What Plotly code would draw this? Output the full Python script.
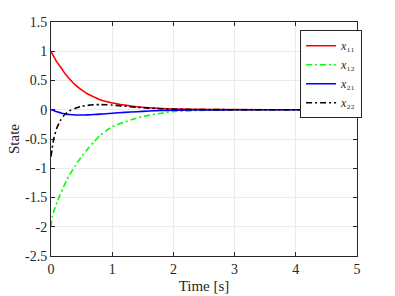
import plotly.graph_objects as go

# ---- data ----
time = [0, 0.02, 0.05, 0.1, 0.15, 0.2, 0.25, 0.3, 0.4, 0.5, 0.6, 0.7, 0.8, 0.9,
        1.0, 1.2, 1.4, 1.6, 1.8, 2.0, 2.3, 2.6, 3.0, 4.0, 5.0]
x11 = [1.0, 0.96, 0.90, 0.81, 0.74, 0.66, 0.59, 0.53, 0.42, 0.34, 0.27, 0.22,
       0.17, 0.14, 0.115, 0.08, 0.05, 0.033, 0.022, 0.014, 0.008, 0.004, 0.002,
       0.0005, 0.0]
x12 = [-2.0, -1.82, -1.72, -1.58, -1.45, -1.33, -1.22, -1.12, -0.95, -0.80,
       -0.67, -0.55, -0.44, -0.36, -0.29, -0.21, -0.145, -0.095, -0.06, -0.03,
       -0.015, -0.007, -0.003, -0.0005, 0.0]
x21 = [0.0, -0.005, -0.015, -0.035, -0.05, -0.065, -0.075, -0.082, -0.09, -0.09,
       -0.087, -0.082, -0.075, -0.068, -0.06, -0.045, -0.033, -0.022, -0.014,
       -0.009, -0.005, -0.003, -0.001, 0.0, 0.0]
x22 = [-0.8, -0.65, -0.47, -0.3, -0.19, -0.11, -0.06, -0.02, 0.025, 0.058, 0.075,
       0.085, 0.088, 0.086, 0.08, 0.062, 0.042, 0.028, 0.018, 0.01, 0.005, 0.002,
       0.001, 0.0, 0.0]

series_names = ["<i>x</i>₁₁", "<i>x</i>₁₂", "<i>x</i>₂₁", "<i>x</i>₂₂"]
series_values = [x11, x12, x21, x22]

x_ticks = [0, 1, 2, 3, 4, 5]
x_tick_labels = ["0", "1", "2", "3", "4", "5"]
y_ticks = [-2.5, -2, -1.5, -1, -0.5, 0, 0.5, 1, 1.5]
y_tick_labels = ["-2.5", "-2", "-1.5", "-1", "-0.5", "0", "0.5", "1", "1.5"]

colors = ["#ff0000", "#00ff00", "#0000ff", "#000000"]
dashes = ["solid", "6px,3px,2px,3px", "solid", "6px,3px,2px,3px"]

FONT = "Liberation Serif"

fig = go.Figure()
for name, vals, c, d in zip(series_names, series_values, colors, dashes):
    fig.add_trace(go.Scatter(x=time, y=vals, mode="lines", name=name,
                             line=dict(color=c, width=1.6, dash=d, shape="spline",
                                       smoothing=0.6)))

axis_common = dict(showline=True, linecolor="#262626", linewidth=1,
                   mirror="ticks", ticks="inside", ticklen=4, tickcolor="#262626",
                   showgrid=True, gridcolor="#ebebeb", gridwidth=1, zeroline=False,
                   automargin=False,
                   tickfont=dict(family=FONT, size=14, color="#262626"))

fig.update_xaxes(range=[0, 5], tickmode="array", tickvals=x_ticks,
                 ticktext=x_tick_labels,
                 title=dict(text="Time [s]", font=dict(family=FONT, size=15, color="#262626"),
                            standoff=4),
                 **axis_common)
fig.update_yaxes(range=[-2.5, 1.5], tickmode="array", tickvals=y_ticks,
                 ticktext=y_tick_labels,
                 title=dict(text="State", font=dict(family=FONT, size=15, color="#262626"),
                            standoff=1),
                 **axis_common)

fig.update_layout(
    width=395, height=296,
    margin=dict(l=51, r=38, t=22, b=40),
    paper_bgcolor="white", plot_bgcolor="white",
    font=dict(family=FONT, color="#262626"),
    legend=dict(x=0.814, y=0.965, xanchor="left", yanchor="top",
                bgcolor="white", bordercolor="#262626", borderwidth=1,
                font=dict(family=FONT, size=12, color="#262626"),
                itemwidth=30, tracegroupgap=0),
    showlegend=True,
)

fig.write_html("out.html", config={"displayModeBar": False},
               post_script="document.body.style.margin='0';document.body.style.overflow='hidden';")
